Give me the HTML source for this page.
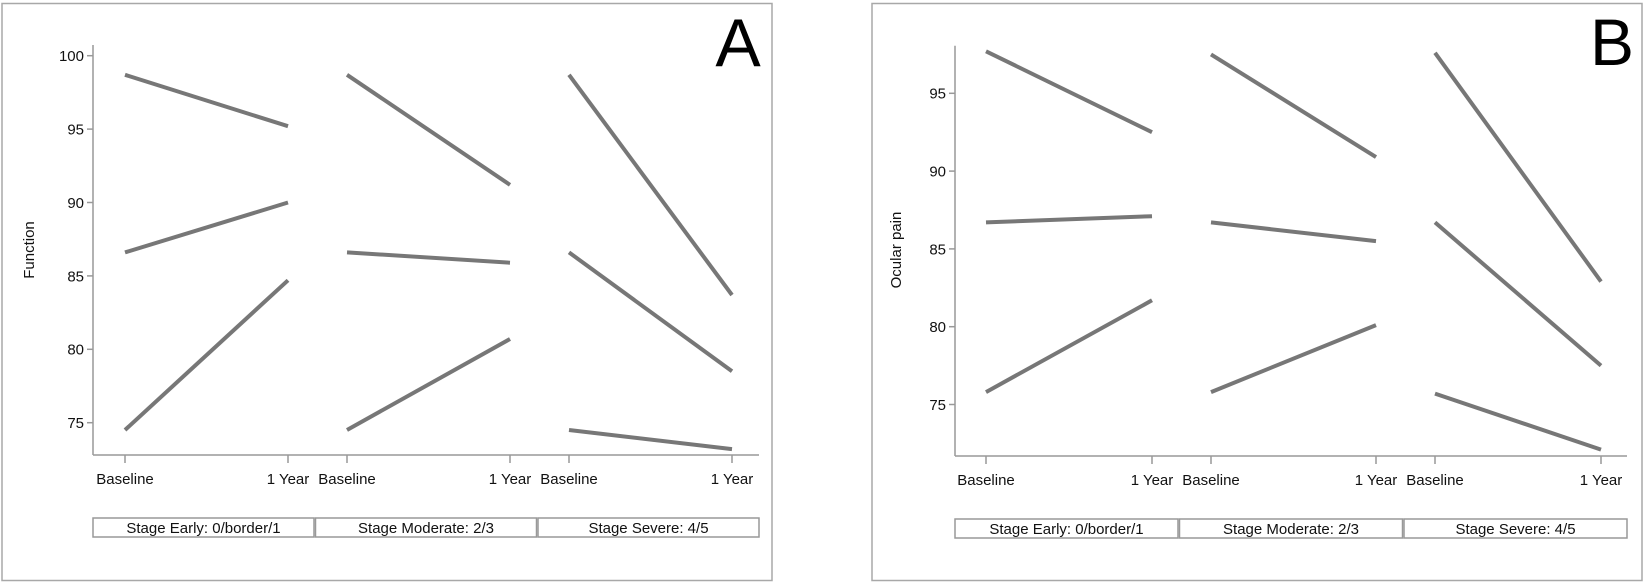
<!DOCTYPE html>
<html><head><meta charset="utf-8"><style>
html,body{margin:0;padding:0;background:#fff;}
svg{display:block;font-family:"Liberation Sans",sans-serif;}
</style></head><body>
<svg width="1645" height="583" viewBox="0 0 1645 583" xmlns="http://www.w3.org/2000/svg">
<rect x="0" y="0" width="1645" height="583" fill="#fff"/>
<!-- Panel A -->
<rect x="2" y="3.5" width="770" height="577" fill="none" stroke="#a8a8a8" stroke-width="1.5"/>
<g stroke="#999" stroke-width="1.5" fill="none">
<line x1="93" y1="45" x2="93" y2="455"/>
<line x1="93" y1="455" x2="759" y2="455"/>
<line x1="87" y1="55.7" x2="93" y2="55.7"/><line x1="87" y1="129.1" x2="93" y2="129.1"/><line x1="87" y1="202.5" x2="93" y2="202.5"/><line x1="87" y1="275.9" x2="93" y2="275.9"/><line x1="87" y1="349.3" x2="93" y2="349.3"/><line x1="87" y1="422.7" x2="93" y2="422.7"/>
<line x1="125" y1="455" x2="125" y2="463"/><line x1="288" y1="455" x2="288" y2="463"/>
<line x1="347" y1="455" x2="347" y2="463"/><line x1="510" y1="455" x2="510" y2="463"/>
<line x1="569" y1="455" x2="569" y2="463"/><line x1="732" y1="455" x2="732" y2="463"/>
<rect x="93" y="518" width="221" height="19"/><rect x="315.5" y="518" width="221" height="19"/><rect x="538" y="518" width="221" height="19"/>
</g>
<g font-size="15" fill="#111" text-anchor="end">
<text x="84" y="61">100</text><text x="84" y="134.5">95</text><text x="84" y="208">90</text><text x="84" y="281.3">85</text><text x="84" y="354.7">80</text><text x="84" y="428">75</text>
</g>
<text transform="translate(34,250) rotate(-90)" font-size="15" text-anchor="middle" fill="#111">Function</text>
<g font-size="15" fill="#111" text-anchor="middle">
<text x="125" y="484">Baseline</text><text x="288" y="484">1 Year</text>
<text x="347" y="484">Baseline</text><text x="510" y="484">1 Year</text>
<text x="569" y="484">Baseline</text><text x="732" y="484">1 Year</text>
<text x="203.5" y="533">Stage Early: 0/border/1</text><text x="426" y="533">Stage Moderate: 2/3</text><text x="648.5" y="533">Stage Severe: 4/5</text>
</g>
<text x="738" y="66" font-size="68" fill="#000" text-anchor="middle">A</text>
<g stroke="#777" stroke-width="4" fill="none">
<line x1="125" y1="74.8" x2="288" y2="126.2"/><line x1="125" y1="252.4" x2="288" y2="202.5"/><line x1="125" y1="430" x2="288" y2="280.3"/>
<line x1="347" y1="74.8" x2="510" y2="184.9"/><line x1="347" y1="252.4" x2="510" y2="262.7"/><line x1="347" y1="430" x2="510" y2="339"/>
<line x1="569" y1="74.8" x2="732" y2="295"/><line x1="569" y1="252.4" x2="732" y2="371.3"/><line x1="569" y1="430" x2="732" y2="449.1"/>
</g>
<!-- Panel B -->
<rect x="872" y="3.5" width="770" height="577" fill="none" stroke="#a8a8a8" stroke-width="1.5"/>
<g stroke="#999" stroke-width="1.5" fill="none">
<line x1="955" y1="45.7" x2="955" y2="456"/>
<line x1="955" y1="456" x2="1627" y2="456"/>
<line x1="949" y1="93.3" x2="955" y2="93.3"/><line x1="949" y1="171.1" x2="955" y2="171.1"/><line x1="949" y1="248.9" x2="955" y2="248.9"/><line x1="949" y1="326.7" x2="955" y2="326.7"/><line x1="949" y1="404.5" x2="955" y2="404.5"/>
<line x1="986" y1="456" x2="986" y2="464"/><line x1="1152" y1="456" x2="1152" y2="464"/>
<line x1="1211" y1="456" x2="1211" y2="464"/><line x1="1376" y1="456" x2="1376" y2="464"/>
<line x1="1435" y1="456" x2="1435" y2="464"/><line x1="1601" y1="456" x2="1601" y2="464"/>
<rect x="955" y="519" width="223" height="19"/><rect x="1179.5" y="519" width="223" height="19"/><rect x="1404" y="519" width="223" height="19"/>
</g>
<g font-size="15" fill="#111" text-anchor="end">
<text x="946" y="98.7">95</text><text x="946" y="176.5">90</text><text x="946" y="254.3">85</text><text x="946" y="332.1">80</text><text x="946" y="409.9">75</text>
</g>
<text transform="translate(901,250) rotate(-90)" font-size="15" text-anchor="middle" fill="#111">Ocular pain</text>
<g font-size="15" fill="#111" text-anchor="middle">
<text x="986" y="485">Baseline</text><text x="1152" y="485">1 Year</text>
<text x="1211" y="485">Baseline</text><text x="1376" y="485">1 Year</text>
<text x="1435" y="485">Baseline</text><text x="1601" y="485">1 Year</text>
<text x="1066.5" y="534">Stage Early: 0/border/1</text><text x="1291" y="534">Stage Moderate: 2/3</text><text x="1515.5" y="534">Stage Severe: 4/5</text>
</g>
<text x="1612" y="65" font-size="66" fill="#000" text-anchor="middle">B</text>
<g stroke="#777" stroke-width="4" fill="none">
<line x1="986" y1="51.3" x2="1152" y2="132.2"/><line x1="986" y1="222.4" x2="1152" y2="216.2"/><line x1="986" y1="392.1" x2="1152" y2="300.3"/>
<line x1="1211" y1="54.4" x2="1376" y2="157.1"/><line x1="1211" y1="222.4" x2="1376" y2="241.1"/><line x1="1211" y1="392.1" x2="1376" y2="325.1"/>
<line x1="1435" y1="52.8" x2="1601" y2="281.6"/><line x1="1435" y1="222.4" x2="1601" y2="365.6"/><line x1="1435" y1="393.6" x2="1601" y2="449.6"/>
</g>
</svg>
</body></html>
